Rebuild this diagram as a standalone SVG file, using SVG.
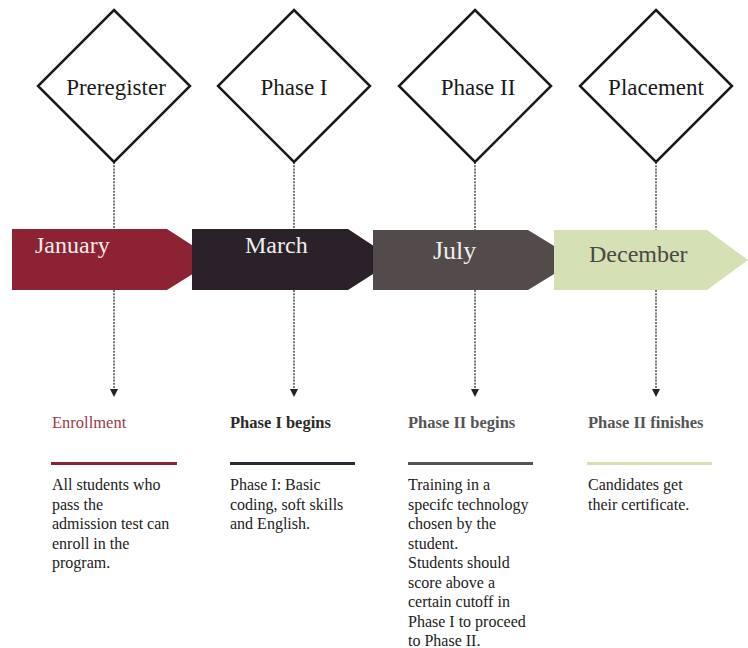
<svg xmlns="http://www.w3.org/2000/svg" width="748" height="648" viewBox="0 0 748 648">
<defs>
<marker id="ah" viewBox="0 0 10 10" refX="5" refY="10" markerWidth="4" markerHeight="4" orient="auto-start-reverse" markerUnits="userSpaceOnUse">
<path d="M0,0 L10,0 L5,10 Z" fill="#333"/>
</marker>
<style>
.dia{fill:#fff;stroke:#1a1a1a;stroke-width:2.5}
.dl{font-family:"Liberation Serif",serif;font-size:23px;fill:#1a1a1a;text-anchor:middle}
.ml{font-family:"Liberation Serif",serif;font-size:24px}
.hd{font-family:"Liberation Serif",serif;font-size:16.5px}
.bd{font-family:"Liberation Serif",serif;font-size:16px;fill:#222}
.cn{stroke:#555;stroke-width:1.6;stroke-dasharray:2 1.2;fill:none}
</style>
</defs>
<rect width="748" height="648" fill="#fff"/>
<g id="connectors">
<line class="cn" x1="114" y1="162" x2="114" y2="389"/>
<line class="cn" x1="294" y1="162" x2="294" y2="389"/>
<line class="cn" x1="475" y1="162" x2="475" y2="389"/>
<line class="cn" x1="656" y1="162" x2="656" y2="389"/>
<path d="M110,389 L118,389 L114,397 Z" fill="#222"/>
<path d="M290,389 L298,389 L294,397 Z" fill="#222"/>
<path d="M471,389 L479,389 L475,397 Z" fill="#222"/>
<path d="M652,389 L660,389 L656,397 Z" fill="#222"/>
</g>
<g id="preregister">
<polygon class="dia" points="114,10 190,86 114,162 38,86"/>
<text class="dl" x="116" y="95">Preregister</text>
</g>
<g id="phase1">
<polygon class="dia" points="294,10 370,86 294,162 218,86"/>
<text class="dl" x="294" y="95">Phase I</text>
</g>
<g id="phase2">
<polygon class="dia" points="475,10 551,86 475,162 399,86"/>
<text class="dl" x="478" y="95">Phase II</text>
</g>
<g id="placement">
<polygon class="dia" points="656,10 732,86 656,162 580,86"/>
<text class="dl" x="656" y="95">Placement</text>
</g>
<g id="january">
<polygon points="12,229 167,229 215,260 167,290 12,290" fill="#8c2233"/>
<text class="ml" x="35" y="253" fill="#f4ecec">January</text>
</g>
<g id="march">
<polygon points="192,229 348,229 395,260 348,290 192,290" fill="#2b2129"/>
<text class="ml" x="245" y="253" fill="#f0eeee">March</text>
</g>
<g id="july">
<polygon points="373,230 528,230 577,260 528,290 373,290" fill="#524a4b"/>
<text class="ml" x="433" y="259" fill="#f0eeee" style="font-size:26px">July</text>
</g>
<g id="december">
<polygon points="554,230 707,230 748,260 707,290 554,290" fill="#d6e0b5"/>
<text class="ml" x="589" y="262" fill="#4a4a42">December</text>
</g>
<g id="enrollment">
<text class="hd" x="52" y="428" fill="#9a3a4a">Enrollment</text>
<rect x="51" y="462" width="126" height="3" fill="#8c2233"/>
<text class="bd"><tspan x="52" y="490">All students who</tspan><tspan x="52" y="509.5">pass the</tspan><tspan x="52" y="529">admission test can</tspan><tspan x="52" y="548.5">enroll in the</tspan><tspan x="52" y="568">program.</tspan></text>
</g>
<g id="phase1-begins">
<text class="hd" x="230" y="428" fill="#2a2a2a" font-weight="bold">Phase I begins</text>
<rect x="230" y="462" width="125" height="3" fill="#2b2b33"/>
<text class="bd"><tspan x="230" y="490">Phase I: Basic</tspan><tspan x="230" y="509.5">coding, soft skills</tspan><tspan x="230" y="529">and English.</tspan></text>
</g>
<g id="phase2-begins">
<text class="hd" x="408" y="428" fill="#555" font-weight="bold">Phase II begins</text>
<rect x="408" y="462" width="125" height="3" fill="#555"/>
<text class="bd"><tspan x="408" y="490">Training in a</tspan><tspan x="408" y="509.5">specifc technology</tspan><tspan x="408" y="529">chosen by the</tspan><tspan x="408" y="548.5">student.</tspan><tspan x="408" y="568">Students should</tspan><tspan x="408" y="587.5">score above a</tspan><tspan x="408" y="607">certain cutoff in</tspan><tspan x="408" y="626.5">Phase I to proceed</tspan><tspan x="408" y="646">to Phase II.</tspan></text>
</g>
<g id="phase2-finishes">
<text class="hd" x="588" y="428" fill="#555" font-weight="bold">Phase II finishes</text>
<rect x="587" y="462" width="125" height="3" fill="#d6e0b5"/>
<text class="bd"><tspan x="588" y="490">Candidates get</tspan><tspan x="588" y="509.5">their certificate.</tspan></text>
</g>
</svg>
